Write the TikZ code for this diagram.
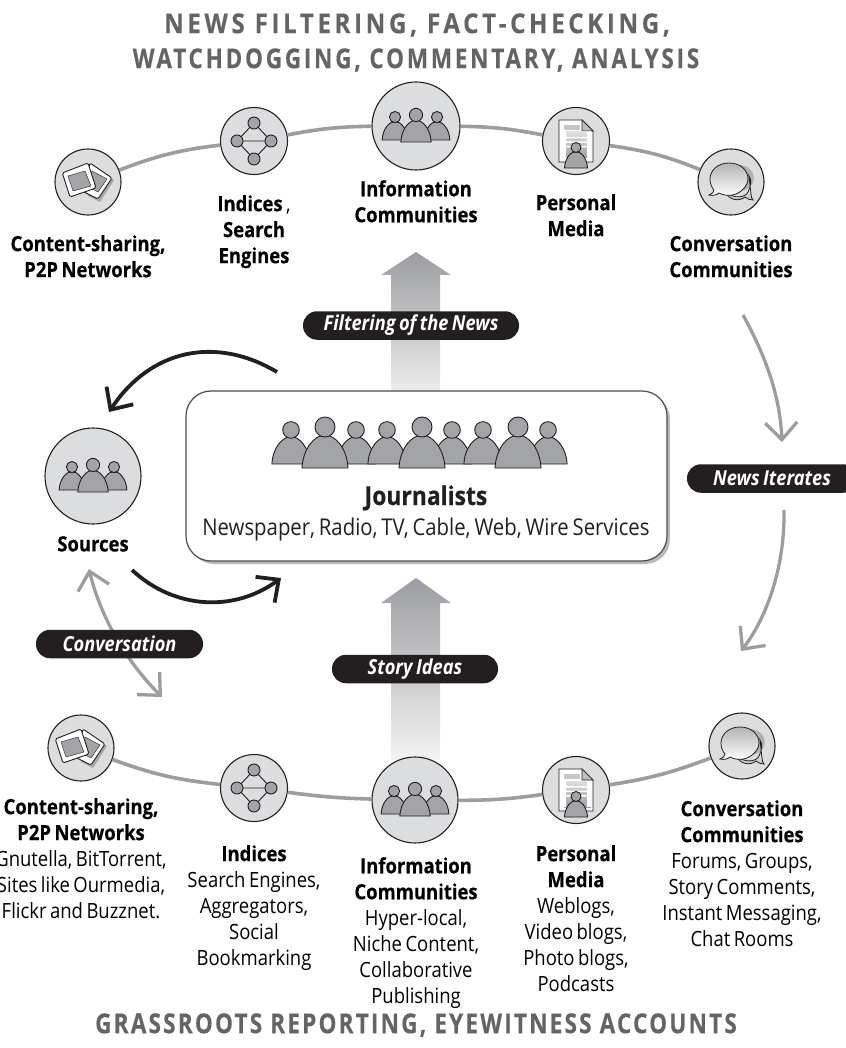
\documentclass[tikz,border=0pt]{standalone}
\usepackage{fontspec}
\setmainfont[FakeStretch=0.88,WordSpace=0.72,BoldFeatures={FakeBold=0.35}]{Open Sans}
\newfontfamily\titleA[LetterSpace=13,FakeStretch=0.88,BoldFeatures={FakeBold=0.3}]{Open Sans}
\newfontfamily\titleB[LetterSpace=10,FakeStretch=0.82,BoldFeatures={FakeBold=0.3}]{Open Sans}
\newfontfamily\titleC[LetterSpace=8,FakeStretch=0.82,BoldFeatures={FakeBold=0.3}]{Open Sans}
\usetikzlibrary{arrows.meta,shadings}
\definecolor{ink}{HTML}{231F20}
\definecolor{disc}{HTML}{DCDDDE}
\definecolor{figure}{HTML}{A2A4A7}
\definecolor{lineg}{HTML}{9C9DA0}
\definecolor{titleg}{HTML}{636466}
\tikzset{
 x=1pt,y=-1pt,
 bigdisc/.style={circle,draw=ink,line width=1.1pt,fill=disc,inner sep=0pt,minimum size=#1},
 link/.style={draw=lineg,line width=3.6pt},
 pill/.style={fill=ink,text=white,rounded corners=14pt,inner sep=0pt,minimum height=28.5pt,font=\fontsize{20.7}{22}\selectfont\bfseries\itshape},
 lbl/.style={anchor=north,align=center,inner sep=0pt,text=black,font=\fontsize{21}{26}\selectfont},
 titletxt/.style={text=titleg,inner sep=0pt,font=\fontsize{27.5}{30}\selectfont},
 blackarrow/.style={draw=ink,line width=3.8pt,-{Straight Barb[length=17pt,width=32pt,line width=3.8pt]}},
 greyarrow/.style={draw=lineg,line width=3.3pt},
 greyhead/.style={-{Straight Barb[length=17pt,width=32pt,line width=3.3pt]}}
}
\newcommand\figperson[3]{%
 \begin{scope}[shift={(#1,#2)},scale=#3]
 \draw[draw=ink,line width=0.9pt,fill=figure] (-23,0) .. controls (-22,-20) and (-10,-33) .. (0,-33) .. controls (10,-33) and (22,-20) .. (23,0) -- cycle;
 \draw[draw=ink,line width=0.9pt,fill=figure] (0,-41) circle (10);
 \end{scope}}
\newcommand\trioicon[1]{%
 \begin{scope}[shift={(#1.center)}]
 \figperson{-21}{14}{0.56}\figperson{21}{14}{0.56}\figperson{0}{16}{0.66}
 \end{scope}}
\newcommand\netsicon[1]{%
 \begin{scope}[shift={(#1.center)}]
 \draw[ink,line width=0.9pt] (0,-18)--(17,0)--(0,18)--(-17,0)--cycle (-17,0)--(17,0);
 \foreach \p in {(0,-18),(17,0),(0,18),(-17,0)} \draw[ink,line width=0.9pt,fill=figure] \p circle (6);
 \end{scope}}
\newcommand\slidesicon[1]{%
 \begin{scope}[shift={(#1.center)}]
 \fill[gray!70] (3,-16)--(26,-2)--(12,20)--(0,14)--cycle;
 \draw[ink,line width=0.9pt,fill=white,rounded corners=1.5pt] (2,-19)--(24,-4)--(10,17)--(-6,9)--cycle;
 \draw[ink,line width=0.4pt,fill=figure] (4,-11)--(19,-3)--(10,10)--(2,6)--cycle;
 \draw[ink,line width=0.9pt,fill=white,rounded corners=1.5pt] (-25.7,-9)--(0,-19)--(8,6)--(-18,15)--cycle;
 \draw[ink,line width=0.4pt,fill=figure] (-20,-6)--(-3,-11)--(3,4)--(-15,9)--cycle;
 \end{scope}}
\newcommand\docicon[1]{%
 \begin{scope}[shift={(#1.center)}]
 \draw[ink,line width=0.9pt,fill=white] (-17,-21)--(6,-21)--(17,-10)--(17,21)--(-17,21)--cycle;
 \draw[ink,line width=0.7pt,fill=figure!70] (6,-21)--(17,-10)--(6,-10)--cycle;
 \fill[gray!45] (-12,-16) rectangle (4,-11);
 \shade[top color=gray!25,bottom color=gray!75] (-12,-9) rectangle (15,17);
 \fill[white] (-12,-9) rectangle (-10,17) (-10,-4) rectangle (11,-2.5) (-10,0.5) rectangle (11,2) (-10,5) rectangle (11,6.5);
 \fill[white] (11,-9) rectangle (15,17);
 \figperson{0}{27}{0.5}
 \end{scope}}
\newcommand\chaticon[1]{%
 \begin{scope}[shift={(#1.center)}]
 \fill[gray!60] (8,-4) ellipse (15 and 13);
 \draw[ink,line width=0.8pt,fill=white,top color=gray!15,bottom color=gray!45]
   (-6,10) .. controls (3,17) and (14,16) .. (17,10) .. controls (20,3) and (21,-1) .. (18,-6) -- (20,12) .. controls (20,15) and (21,17) .. (22,18) .. controls (19,18) and (16,17) .. (14,15) .. controls (8,20) and (-2,18) .. (-6,10) -- cycle;
 \draw[ink,line width=0.8pt,top color=gray!60,bottom color=white]
   (-2,-19) .. controls (-14,-19) and (-21,-11) .. (-21,-3) .. controls (-21,2) and (-19,6) .. (-17,8) .. controls (-17,10) and (-19,12) .. (-22,13) .. controls (-18,14) and (-14,13) .. (-12,11) .. controls (-7,14) and (0,14) .. (5,12) .. controls (12,9) and (17,3) .. (17,-3) .. controls (17,-12) and (9,-19) .. (-2,-19) -- cycle;
 \end{scope}}
\begin{document}
\begin{tikzpicture}
\useasboundingbox (0,0) rectangle (845,1048);
% fat arrows
\path[shading=axis,top color=lineg,bottom color=disc!55] (416,252)--(451,275)--(440,275)--(440,391)--(391,391)--(391,275)--(381,275)--cycle;
\path[shading=axis,top color=lineg,bottom color=disc!35] (416,578)--(451,603)--(440,603)--(440,760)--(391,760)--(391,603)--(381,603)--cycle;
% journalists
\fill[gray!55] (189,394) [rounded corners=25pt] rectangle (670,564);
\node[draw=black!70,line width=1.2pt,fill=white,rounded corners=25pt,minimum width=481pt,minimum height=170pt,inner sep=0pt] (jour) at (426.5,476) {};
\foreach \xx in {291,356,387,452,483,548} {\figperson{\xx}{464}{0.83}}
\foreach \xx in {325,422,518} {\figperson{\xx}{468}{1}}
\node[anchor=base,inner sep=0pt,font=\fontsize{26}{30}\selectfont\bfseries,text=ink] (jourt) at (426,505) {Journalists};
\node[anchor=base,inner sep=0pt,font=\fontsize{23.1}{26}\selectfont,text=ink] (jours) at (426,535) {Newspaper, Radio, TV, Cable, Web, Wire Services};
% discs top
\node[bigdisc=66pt] (t1) at (88,182) {};
\node[bigdisc=67pt] (t2) at (254,141) {};
\node[bigdisc=88pt] (t3) at (416,126) {};
\node[bigdisc=67pt] (t4) at (576,141) {};
\node[bigdisc=66pt] (t5) at (731,182) {};
% discs bottom
\node[bigdisc=66pt] (b1) at (81,748) {};
\node[bigdisc=67pt] (b2) at (254,788) {};
\node[bigdisc=86pt] (b3) at (415,800) {};
\node[bigdisc=67pt] (b4) at (576,790) {};
\node[bigdisc=66pt] (b5) at (742,746) {};
\node[bigdisc=96pt] (src) at (93,476) {};
% rims
\draw[link] (t1) to[bend left=7] (t2);
\draw[link] (t2) to[bend left=5] (t3);
\draw[link] (t3) to[bend left=5] (t4);
\draw[link] (t4) to[bend left=7] (t5);
\draw[link] (b1) to[bend right=7] (b2);
\draw[link] (b2) to[bend right=3] (b3);
\draw[link] (b3) to[bend right=4] (b4);
\draw[link] (b4) to[bend right=6] (b5);
% icons
\slidesicon{t1}\netsicon{t2}\trioicon{t3}\docicon{t4}\chaticon{t5}
\slidesicon{b1}\netsicon{b2}\trioicon{b3}\docicon{b4}\chaticon{b5}
\trioicon{src}
% titles
\node[titletxt] (h1) at (417,25) {\titleA\bfseries NEWS FILTERING, FACT-CHECKING,};
\node[titletxt] (h2) at (416,60) {\titleB\bfseries WATCHDOGGING, COMMENTARY, ANALYSIS};
\node[titletxt] (h3) at (416,1025) {\titleC\bfseries GRASSROOTS REPORTING, EYEWITNESS ACCOUNTS};
% top labels
\node[lbl] (lt1) at (88,235) {\bfseries Content-sharing,\\\bfseries P2P Networks};
\node[lbl] (lt2) at (254,195) {\bfseries Indices {\mdseries,}\\\bfseries Search\\\bfseries Engines};
\node[lbl] (lt3) at (416,180) {\bfseries Information\\\bfseries Communities};
\node[lbl] (lt4) at (576,194) {\bfseries Personal\\\bfseries Media};
\node[lbl] (lt5) at (731,235) {\bfseries Conversation\\\bfseries Communities};
\node[lbl] (lsrc) at (93,536) {\bfseries Sources};
% bottom labels
\node[lbl] (lb1) at (81,798) {\bfseries Content-sharing,\\\bfseries P2P Networks\\Gnutella, BitTorrent,\\Sites like Ourmedia,\\Flickr and Buzznet.};
\node[lbl] (lb2) at (254,845) {\bfseries Indices\\Search Engines,\\Aggregators,\\Social\\Bookmarking};
\node[lbl] (lb3) at (416,857) {\bfseries Information\\\bfseries Communities\\Hyper-local,\\Niche Content,\\Collaborative\\Publishing};
\node[lbl] (lb4) at (576,845) {\bfseries Personal\\\bfseries Media\\Weblogs,\\Video blogs,\\Photo blogs,\\Podcasts};
\node[lbl] (lb5) at (742,800) {\bfseries Conversation\\\bfseries Communities\\Forums, Groups,\\Story Comments,\\Instant Messaging,\\Chat Rooms};
% black arrows
\coordinate (a1s) at (277,372); \coordinate (a1e) at (109,412);
\coordinate (a2s) at (132,570); \coordinate (a2e) at (281,578);
\draw[blackarrow] (a1s) .. controls (215,335) and (150,350) .. (a1e);
\draw[blackarrow] (a2s) .. controls (175,610) and (235,612) .. (a2e);
% grey arrows
\coordinate (c1) at (89,569); \coordinate (c2) at (162,697);
\draw[greyarrow,{Straight Barb[length=17pt,width=32pt,line width=3.3pt]}-{Straight Barb[length=17pt,width=32pt,line width=3.3pt]}] (c1) .. controls (100,615) and (125,660) .. (c2);
\coordinate (n1) at (743,315); \coordinate (n2) at (782,442);
\coordinate (n3) at (784,510); \coordinate (n4) at (741,651);
\draw[greyarrow,greyhead] (n1) .. controls (765,355) and (780,395) .. (n2);
\draw[greyarrow,greyhead] (n3) .. controls (785,570) and (765,620) .. (n4);
% pills
\node[pill,minimum width=216pt] (p1) at (411,325.5) {Filtering of the News};
\node[pill,minimum width=166pt] (p2) at (415,669) {Story Ideas};
\node[pill,minimum width=167pt] (p3) at (119.5,644) {Conversation};
\node[pill,minimum width=170pt] (p4) at (772,478.5) {News Iterates};
\end{tikzpicture}
\end{document}
